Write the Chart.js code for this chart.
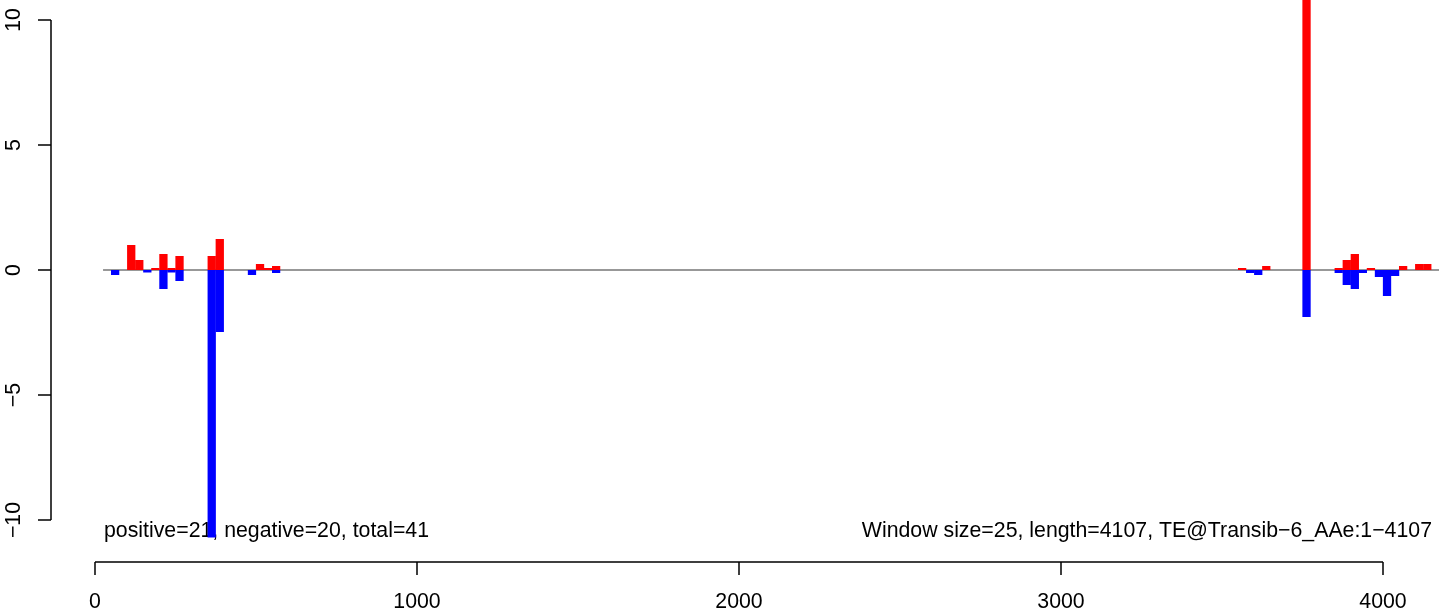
<!DOCTYPE html>
<html>
<head>
<meta charset="utf-8">
<script src="https://cdn.jsdelivr.net/npm/chart.js@4/dist/chart.umd.min.js"></script>
<style>
  html, body { margin: 0; padding: 0; background: #fff; }
  #plot { display: block; }
</style>
</head>
<body>
<canvas id="plot" width="1439" height="610"></canvas>
<script>
// window data (start of each 25bp window and its score)
var windowSize = 25;
var seqLength = 4107;
var posStarts = [100, 125, 175, 200, 225, 250, 350, 375, 500, 525, 550,
	3550, 3625, 3750, 3850, 3875, 3900, 3950, 4050, 4100, 4125];
var posValues = [1.0, 0.4, 0.08, 0.64, 0.08, 0.56, 0.56, 1.24, 0.24, 0.08, 0.16,
	0.08, 0.16, 14, 0.08, 0.4, 0.64, 0.08, 0.16, 0.24, 0.24];
var negStarts = [50, 150, 200, 225, 250, 350, 375, 475, 550,
	3575, 3600, 3750, 3850, 3875, 3900, 3925, 3975, 4000, 4025];
var negValues = [-0.2, -0.1, -0.76, -0.1, -0.44, -10.7, -2.48, -0.2, -0.12,
	-0.12, -0.2, -1.88, -0.12, -0.6, -0.76, -0.12, -0.28, -1.04, -0.24];
var xTicks = [0, 1000, 2000, 3000, 4000];
var yTicks = [-10, -5, 0, 5, 10];
var leftNote = 'positive=21, negative=20, total=41';
var rightNote = 'Window size=25, length=4107, TE@Transib\u22126_AAe:1\u22124107';

var FONT = '21.3px "Liberation Sans", Arial, Helvetica, sans-serif';

function toPoints(starts, values) {
	var pts = [];
	starts.forEach(function (s, i) {
		pts.push({ x: s + windowSize / 2, y: values[i] });
	});
	return pts;
}

function fmt(v) {
	return v < 0 ? '\u2212' + Math.abs(v) : String(v);
}

// R style axes + notes
var rAxes = {
	id: 'rAxes',
	beforeDatasetsDraw: function (chart) {
		var ctx = chart.ctx;
		ctx.save();
		ctx.fillStyle = '#000';
		ctx.font = FONT;
		ctx.textBaseline = 'alphabetic';
		ctx.textAlign = 'left';
		ctx.fillText(leftNote, 104, 537);
		ctx.textAlign = 'right';
		ctx.fillText(rightNote, 1432, 537);
		ctx.restore();
	},
	afterDraw: function (chart) {
		var ctx = chart.ctx;
		var xs = chart.scales.x, ys = chart.scales.y;
		ctx.save();
		ctx.strokeStyle = '#000';
		ctx.fillStyle = '#000';
		ctx.lineWidth = 1.5;
		ctx.font = FONT;

		// x axis
		var ay = 562;
		var x0 = xs.getPixelForValue(xTicks[0]);
		var x1 = xs.getPixelForValue(xTicks[xTicks.length - 1]);
		ctx.beginPath();
		ctx.moveTo(x0, ay);
		ctx.lineTo(x1, ay);
		xTicks.forEach(function (t) {
			var px = xs.getPixelForValue(t);
			ctx.moveTo(px, ay);
			ctx.lineTo(px, ay + 13);
		});
		ctx.stroke();
		ctx.textAlign = 'center';
		ctx.textBaseline = 'alphabetic';
		xTicks.forEach(function (t) {
			ctx.fillText(String(t), xs.getPixelForValue(t), 608);
		});

		// y axis
		var ax = 51;
		var yA = ys.getPixelForValue(yTicks[0]);
		var yB = ys.getPixelForValue(yTicks[yTicks.length - 1]);
		ctx.beginPath();
		ctx.moveTo(ax, yA);
		ctx.lineTo(ax, yB);
		yTicks.forEach(function (t) {
			var py = ys.getPixelForValue(t);
			ctx.moveTo(ax, py);
			ctx.lineTo(ax - 13, py);
		});
		ctx.stroke();
		yTicks.forEach(function (t) {
			var py = ys.getPixelForValue(t);
			ctx.save();
			ctx.translate(20, py);
			ctx.rotate(-Math.PI / 2);
			ctx.textAlign = 'center';
			ctx.fillText(fmt(t), 0, 0);
			ctx.restore();
		});
		ctx.restore();
	}
};

var ctx = document.getElementById('plot').getContext('2d');
var chart = new Chart(ctx, {
	type: 'bar',
	data: {
		datasets: [{
			label: 'positive',
			data: toPoints(posStarts, posValues),
			backgroundColor: '#ff0000',
			borderWidth: 0,
			grouped: false,
			categoryPercentage: 1,
			barPercentage: 1.03,
			order: 1
		}, {
			label: 'negative',
			data: toPoints(negStarts, negValues),
			backgroundColor: '#0000ff',
			borderWidth: 0,
			grouped: false,
			categoryPercentage: 1,
			barPercentage: 1.03,
			order: 1
		}, {
			type: 'line',
			label: 'baseline',
			data: [{ x: windowSize, y: 0 }, { x: 4200, y: 0 }],
			borderColor: '#333333',
			borderWidth: 1.2,
			pointRadius: 0,
			order: 2
		}]
	},
	options: {
		responsive: false,
		animation: false,
		devicePixelRatio: 1,
		layout: { padding: 0 },
		plugins: {
			legend: { display: false },
			tooltip: { enabled: false }
		},
		scales: {
			x: {
				type: 'linear',
				display: false,
				offset: false,
				// 0 -> 95px, 4000 -> 1383px
				min: -295.03,
				max: 4173.91
			},
			y: {
				type: 'linear',
				display: false,
				// 10 -> 20px, -10 -> 520px
				min: -13.6,
				max: 10.8
			}
		}
	},
	plugins: [rAxes]
});
</script>
</body>
</html>
